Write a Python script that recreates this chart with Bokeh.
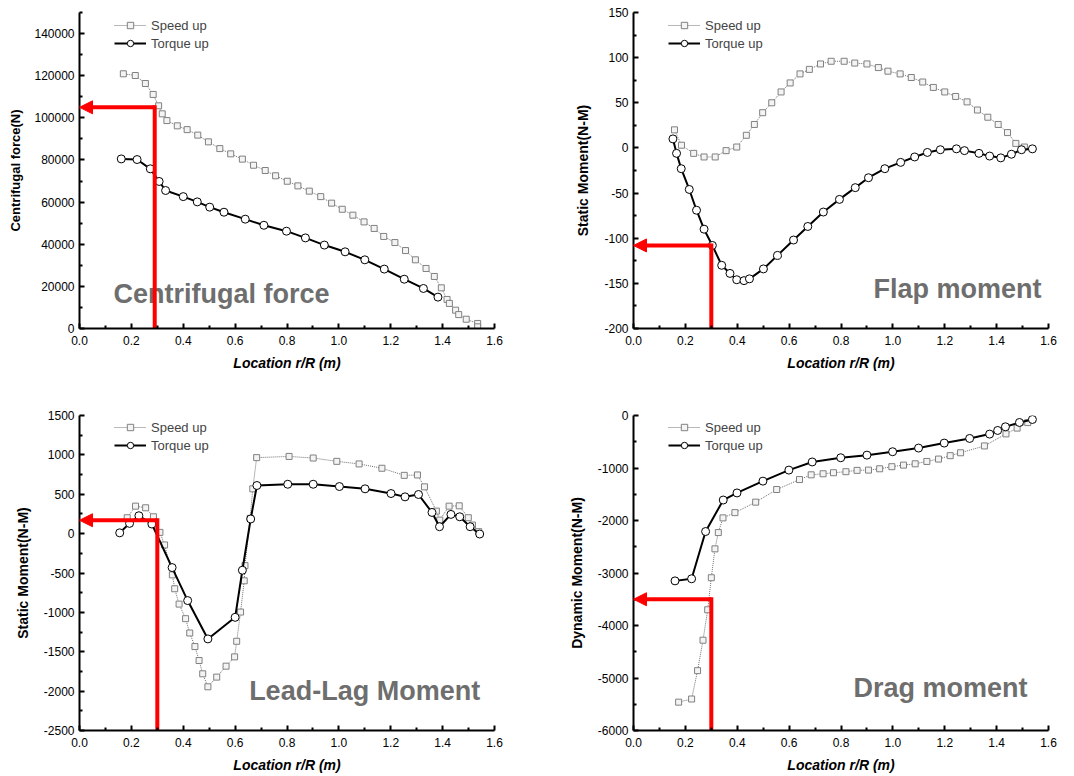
from bokeh.plotting import figure
from bokeh.layouts import column, row
from bokeh.models import (Range1d, FixedTicker, PrintfTickFormatter, Legend, LegendItem,
                          Arrow, NormalHead, Label)
from bokeh.embed import file_html
from bokeh.resources import INLINE

# ---------------- data ----------------
cf_speed_x = [0.169, 0.215, 0.254, 0.284, 0.305, 0.319, 0.337, 0.377, 0.415, 0.456, 0.497, 0.541,
              0.583, 0.628, 0.671, 0.716, 0.756, 0.801, 0.842, 0.886, 0.930, 0.972, 1.013, 1.054,
              1.097, 1.136, 1.173, 1.216, 1.257, 1.295, 1.336, 1.368, 1.395, 1.417, 1.426, 1.450,
              1.462, 1.491, 1.535, 1.535]
cf_speed_y = [120900, 120100, 116300, 111100, 105700, 101900, 98700, 96200, 94400, 91800, 88600,
              85400, 82900, 80400, 77500, 75000, 72500, 69900, 67700, 65200, 62600, 59500, 56600,
              53800, 50600, 47500, 43700, 40800, 37000, 32600, 28500, 24700, 19300, 13800, 11900,
              8700, 6600, 4400, 2400, 800]
cf_torque_x = [0.161, 0.222, 0.273, 0.307, 0.332, 0.400, 0.454, 0.502, 0.557, 0.639, 0.711, 0.798,
               0.871, 0.944, 1.024, 1.100, 1.175, 1.252, 1.326, 1.382]
cf_torque_y = [80500, 80200, 75800, 69800, 65500, 62600, 60100, 57600, 55200, 51900, 49000, 46200,
               43000, 39600, 36400, 32600, 28200, 23400, 19000, 14900]

fl_speed_x = [0.158, 0.185, 0.232, 0.272, 0.315, 0.357, 0.398, 0.435, 0.466, 0.498, 0.533, 0.569,
              0.604, 0.642, 0.678, 0.721, 0.762, 0.812, 0.853, 0.900, 0.944, 0.981, 1.028, 1.071,
              1.115, 1.156, 1.200, 1.242, 1.286, 1.326, 1.366, 1.406, 1.442, 1.474, 1.507]
fl_speed_y = [20, 3, -6, -10, -10, -3, 1, 14, 26, 39, 50, 62, 72, 82, 87, 93, 96, 96, 94, 93, 89,
              85, 82, 78, 73, 67, 62, 57, 51, 42, 34, 26, 17, 5, 1]
fl_torque_x = [0.152, 0.166, 0.184, 0.215, 0.243, 0.272, 0.304, 0.340, 0.372, 0.398, 0.426, 0.447,
               0.501, 0.555, 0.617, 0.672, 0.732, 0.794, 0.855, 0.906, 0.969, 1.030, 1.084, 1.133,
               1.183, 1.245, 1.276, 1.332, 1.373, 1.416, 1.457, 1.496, 1.538]
fl_torque_y = [10, -6, -23, -46, -69, -90, -108, -130, -139, -146, -147, -145, -134, -119, -102,
               -87, -71, -57, -44, -33, -23, -16, -10, -5, -2, -1, -3, -6, -9, -11, -7, -2, -1]

ll_speed_x = [0.184, 0.216, 0.255, 0.285, 0.310, 0.328, 0.358, 0.367, 0.384, 0.409, 0.425, 0.445,
              0.461, 0.475, 0.495, 0.529, 0.565, 0.598, 0.606, 0.621, 0.635, 0.638, 0.658, 0.668,
              0.683, 0.808, 0.901, 0.992, 1.078, 1.166, 1.252, 1.303, 1.330, 1.376, 1.389, 1.425,
              1.464, 1.499, 1.515, 1.539]
ll_speed_y = [202, 349, 328, 214, 16, -144, -524, -700, -895, -1080, -1262, -1434, -1611, -1780,
              -1945, -1822, -1683, -1565, -1367, -996, -599, -406, 194, 569, 965, 980, 960, 918,
              885, 830, 740, 745, 594, 286, 172, 349, 353, 202, 109, 25]
ll_torque_x = [0.155, 0.193, 0.229, 0.279, 0.357, 0.417, 0.495, 0.600, 0.628, 0.660, 0.684, 0.803,
               0.901, 1.002, 1.101, 1.201, 1.255, 1.307, 1.359, 1.388, 1.432, 1.466, 1.506, 1.543]
ll_torque_y = [10, 130, 227, 122, -431, -850, -1337, -1063, -465, 186, 611, 627, 627, 598, 569,
               509, 467, 497, 269, 88, 244, 214, 88, -5]

dr_speed_x = [0.174, 0.224, 0.247, 0.268, 0.286, 0.300, 0.314, 0.327, 0.345, 0.391, 0.471, 0.552,
              0.640, 0.685, 0.731, 0.771, 0.819, 0.862, 0.906, 0.949, 0.996, 1.041, 1.086, 1.131,
              1.176, 1.221, 1.261, 1.353, 1.436, 1.479, 1.520]
dr_speed_y = [-5460, -5400, -4860, -4280, -3700, -3090, -2540, -2230, -1950, -1850, -1650, -1410,
              -1220, -1130, -1110, -1090, -1070, -1045, -1040, -1015, -975, -945, -920, -875,
              -830, -765, -710, -580, -350, -240, -135]
dr_torque_x = [0.160, 0.224, 0.278, 0.346, 0.399, 0.499, 0.599, 0.689, 0.799, 0.900, 0.999, 1.099,
               1.198, 1.296, 1.373, 1.404, 1.434, 1.488, 1.538]
dr_torque_y = [-3150, -3110, -2210, -1610, -1475, -1250, -1040, -885, -805, -755, -690, -620,
               -525, -437, -354, -285, -215, -133, -76]

# red marker read-outs (x on blade, y value read)
cf_mark = (0.29, 105000)
fl_mark = (0.30, -108)
ll_mark = (0.30, 170)
dr_mark = (0.30, -3500)

x_ticks = [0.0, 0.2, 0.4, 0.6, 0.8, 1.0, 1.2, 1.4, 1.6]
x_minor = [0.1, 0.3, 0.5, 0.7, 0.9, 1.1, 1.3, 1.5]

FONT = "Liberation Sans"
RED = "#ff0000"
GREY_TXT = "#6e6e6e"


def make_panel(width, height, borders, y_lo, y_hi, y_step, ylabel, ylabel_size, ylabel_standoff,
               sx, sy, tx, ty, mark, title, title_pos):
    bl, br, bt, bb = borders
    p = figure(width=width, height=height, x_range=Range1d(0, 1.6), y_range=Range1d(y_lo, y_hi),
               output_backend="svg", toolbar_location=None,
               min_border_left=bl, min_border_right=br, min_border_top=bt, min_border_bottom=bb)
    p.xgrid.visible = False
    p.ygrid.visible = False
    p.outline_line_color = None
    p.background_fill_color = "white"

    yt = list(range(y_lo, y_hi + 1, y_step))
    if y_hi == 150000:
        yt = [v for v in yt if v <= 140000]
    ym = [v + y_step / 2 for v in range(y_lo, y_hi, y_step)]
    p.xaxis.ticker = FixedTicker(ticks=x_ticks, minor_ticks=x_minor)
    p.yaxis.ticker = FixedTicker(ticks=yt, minor_ticks=ym)
    p.xaxis.formatter = PrintfTickFormatter(format="%.1f")
    p.yaxis.formatter = PrintfTickFormatter(format="%d")

    for ax in (p.xaxis[0], p.yaxis[0]):
        ax.axis_line_width = 2
        ax.axis_line_color = "black"
        ax.major_tick_in = 5
        ax.major_tick_out = 0
        ax.minor_tick_in = 3
        ax.minor_tick_out = 0
        ax.major_tick_line_width = 2
        ax.minor_tick_line_width = 2
        ax.major_tick_line_color = "black"
        ax.minor_tick_line_color = "black"
        ax.major_label_text_font = FONT
        ax.major_label_text_font_size = "12px"
        ax.major_label_text_color = "black"
        ax.axis_label_text_font = FONT
        ax.axis_label_text_color = "black"

    p.xaxis.major_label_standoff = 7
    p.yaxis.major_label_standoff = 5
    p.xaxis.axis_label = "Location r/R (m)"
    p.xaxis.axis_label_text_font_style = "bold italic"
    p.xaxis.axis_label_text_font_size = "14px"
    p.xaxis.axis_label_standoff = 7
    p.yaxis.axis_label = ylabel
    p.yaxis.axis_label_text_font_style = "bold"
    p.yaxis.axis_label_text_font_size = ylabel_size
    p.yaxis.axis_label_standoff = ylabel_standoff

    p.add_layout(Label(x=title_pos[0], y=title_pos[1], text=title, text_font=FONT,
                       text_font_size="27px", text_font_style="bold", text_color=GREY_TXT,
                       text_baseline="middle", level="underlay"))

    l1 = p.line(sx, sy, line_color="#707070", line_width=1, line_dash="1 1")
    s1 = p.scatter(sx, sy, marker="square", size=6, fill_color="#f4f4f4",
                   line_color="#808080", line_width=1)
    l2 = p.line(tx, ty, line_color="black", line_width=2)
    s2 = p.scatter(tx, ty, marker="circle", size=8, fill_color="white",
                   line_color="black", line_width=1)

    mx, my = mark
    p.line([mx, mx], [y_lo, my], line_color=RED, line_width=4, line_cap="square")
    p.add_layout(Arrow(end=NormalHead(size=13, fill_color=RED, line_color=RED),
                       x_start=mx, y_start=my, x_end=0, y_end=my,
                       line_color=RED, line_width=4))

    frame_h = height - bt - bb
    legend = Legend(items=[LegendItem(label="Speed up", renderers=[l1, s1]),
                           LegendItem(label="Torque up", renderers=[l2, s2])],
                    location=(35, frame_h - 39), padding=0, margin=0, spacing=2,
                    glyph_width=32, glyph_height=16, label_height=16, label_standoff=5,
                    label_text_font=FONT, label_text_font_size="13px",
                    background_fill_alpha=0, border_line_color=None)
    p.add_layout(legend)
    return p


p1 = make_panel(537, 388, (79, 43, 12, 60), 0, 150000, 20000, "Centrifugal force(N)", "13px", 8,
                cf_speed_x, cf_speed_y, cf_torque_x, cf_torque_y, cf_mark,
                "Centrifugal force", (0.131, 16600))
p2 = make_panel(537, 388, (96, 26, 12, 60), -200, 150, 50, "Static Moment(N-M)", "14px", 10,
                fl_speed_x, fl_speed_y, fl_torque_x, fl_torque_y, fl_mark,
                "Flap moment", (0.925, -156))
p3 = make_panel(537, 387, (79, 43, 27, 44), -2500, 1500, 500, "Static Moment(N-M)", "14px", 10,
                ll_speed_x, ll_speed_y, ll_torque_x, ll_torque_y, ll_mark,
                "Lead-Lag Moment", (0.654, -1995))
p4 = make_panel(537, 387, (96, 26, 27, 44), -6000, 0, 1000, "Dynamic Moment(N-M)", "14px", 10,
                dr_speed_x, dr_speed_y, dr_torque_x, dr_torque_y, dr_mark,
                "Drag moment", (0.848, -5183))

layout = column(row(p1, p2, spacing=0), row(p3, p4, spacing=0), spacing=0)
open("out.html", "w").write(file_html(layout, INLINE))
